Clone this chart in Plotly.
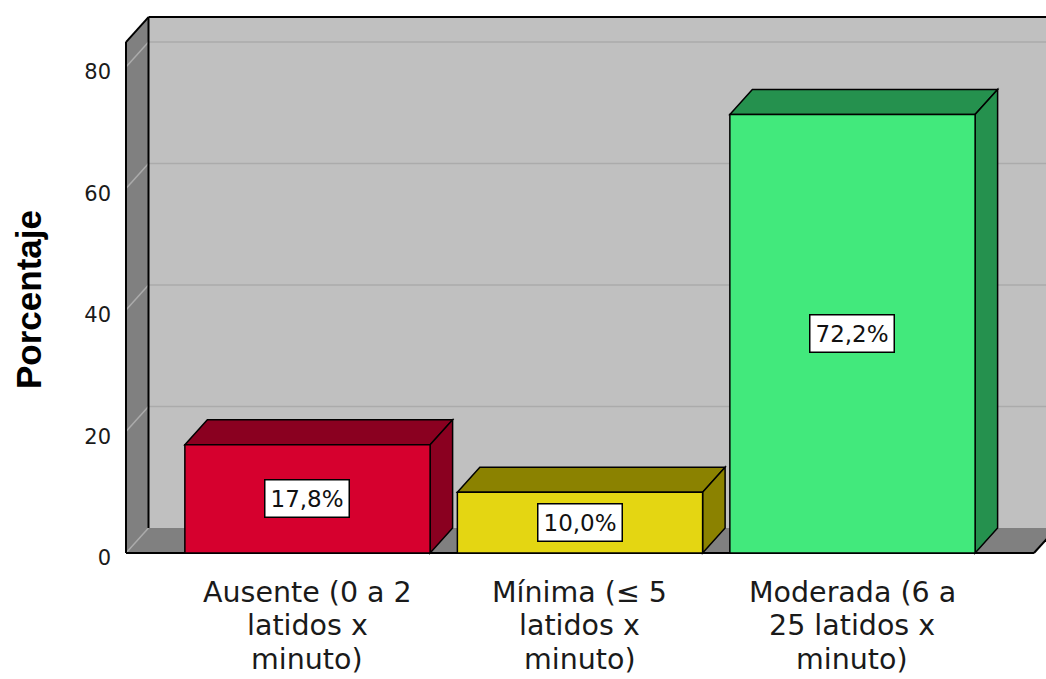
import plotly.graph_objects as go

# ---------------- data ----------------
category_lines = [
    ["Ausente (0 a 2", "latidos x", "minuto)"],
    ["Mínima (≤ 5", "latidos x", "minuto)"],
    ["Moderada (6 a", "25 latidos x", "minuto)"],
]
values = [17.8, 10.0, 72.2]
front_colors = ["#d6002e", "#e4d612", "#42e97c"]
dark_colors = ["#8a0020", "#8b8200", "#25914e"]
y_ticks = [0, 20, 40, 60, 80]
y_title = "Porcentaje"

# ---------------- geometry (layout only) ----------------
W, H = 1046, 679
ML, MB = 120, 119
PX_X = 272.5          # pixels per category unit
PX_Y = 6.075          # pixels per percent
X0, X1 = -0.666, 2.666            # front floor extent
XMIN = X0 - (126 - ML) / PX_X
XMAX = XMIN + (W - ML) / PX_X
YMIN = -(H - MB - 553) / PX_Y
YMAX = YMIN + (H - MB) / PX_Y
DX = 22.5 / PX_X
DY = 25 / PX_Y
WT = 84.1
BW = 0.9

WALL = "#808080"
BACK = "#c0c0c0"
GRID = "#ababab"
EDGE = "black"

shapes = []


def poly(pts, fill, lw=0, lc=EDGE):
    d = "M " + " L ".join(f"{x},{y}" for x, y in pts) + " Z"
    return dict(type="path", path=d, xref="x", yref="y", fillcolor=fill,
                line=dict(width=lw, color=lc), layer="below")


def seg(p, q, color, width):
    return dict(type="line", x0=p[0], y0=p[1], x1=q[0], y1=q[1], xref="x", yref="y",
                line=dict(color=color, width=width), layer="below")


# back wall
shapes.append(poly([(X0 + DX, DY), (XMAX + 1, DY), (XMAX + 1, WT + DY), (X0 + DX, WT + DY)], BACK))
# left wall
shapes.append(poly([(X0, 0), (X0 + DX, DY), (X0 + DX, WT + DY), (X0, WT)], WALL))
# floor
shapes.append(poly([(X0, 0), (X1, 0), (X1 + DX, DY), (X0 + DX, DY)], WALL))
# grid lines
for v in y_ticks:
    if v > 0:
        shapes.append(seg((X0 + DX, v + DY), (XMAX + 1, v + DY), GRID, 1.5))
    shapes.append(seg((X0, v), (X0 + DX, v + DY), GRID, 1.5))
# wall edges
shapes.append(seg((X0, 0), (X0, WT), EDGE, 2))
shapes.append(seg((X0 + DX, DY), (X0 + DX, WT + DY), EDGE, 2))
shapes.append(seg((X0, WT), (X0 + DX, WT + DY), EDGE, 2))
shapes.append(seg((X0 + DX, WT + DY), (XMAX + 1, WT + DY), EDGE, 2))
shapes.append(seg((X0, 0), (X1, 0), EDGE, 2))
shapes.append(seg((X1, 0), (X1 + DX, DY), EDGE, 2))

# bar top and side faces
for i, v in enumerate(values):
    l, r = i - BW / 2, i + BW / 2
    shapes.append(poly([(l, v), (l + DX, v + DY), (r + DX, v + DY), (r, v)], dark_colors[i], 1.5))
    shapes.append(poly([(r, 0), (r + DX, DY), (r + DX, v + DY), (r, v)], dark_colors[i], 1.5))

fig = go.Figure()
fig.add_trace(go.Bar(
    x=list(range(len(values))), y=values, width=BW,
    marker=dict(color=front_colors, line=dict(color=EDGE, width=1.5)),
    hoverinfo="skip", showlegend=False,
))

annotations = []
# value labels
for i, v in enumerate(values):
    annotations.append(dict(
        x=i, y=v / 2, xref="x", yref="y",
        text=f"{v:.1f}".replace(".", ",") + "%", showarrow=False,
        font=dict(family="DejaVu Sans", size=23, color="#111111"),
        bgcolor="white", bordercolor="black", borderwidth=1.5, borderpad=5,
    ))
# category labels (one annotation per line)
line_centers = [592, 625.5, 659]
plot_h = H - MB
for i, lines in enumerate(category_lines):
    for k, t in enumerate(lines):
        annotations.append(dict(
            x=i, xref="x", y=(plot_h - line_centers[k]) / plot_h, yref="paper",
            text=t, showarrow=False, xanchor="center", yanchor="middle",
            borderpad=0, borderwidth=0,
            font=dict(family="DejaVu Sans", size=28.5, color="#1a1a1a"),
        ))
# y axis title
annotations.append(dict(
    x=(28 - ML) / (W - ML), xref="paper", y=(plot_h - 300) / plot_h, yref="paper",
    text=f"<b>{y_title}</b>", showarrow=False, textangle=-90,
    xanchor="center", yanchor="middle",
    font=dict(family="Liberation Sans", size=35, color="black"),
))

fig.update_layout(
    width=W, height=H,
    margin=dict(l=ML, r=0, t=0, b=MB, pad=0),
    paper_bgcolor="white", plot_bgcolor="white",
    shapes=shapes, annotations=annotations,
    xaxis=dict(range=[XMIN, XMAX], showgrid=False, zeroline=False,
               showticklabels=False, showline=False, ticks="", fixedrange=True),
    yaxis=dict(range=[YMIN, YMAX], showgrid=False, zeroline=False, showline=False,
               tickvals=y_ticks, ticktext=[str(t) for t in y_ticks], ticks="",
               ticklabelstandoff=8, ticklabelshift=5,
               tickfont=dict(family="DejaVu Sans", size=21, color="#1a1a1a"),
               fixedrange=True),
    showlegend=False,
)

fig.write_html("out.html")
